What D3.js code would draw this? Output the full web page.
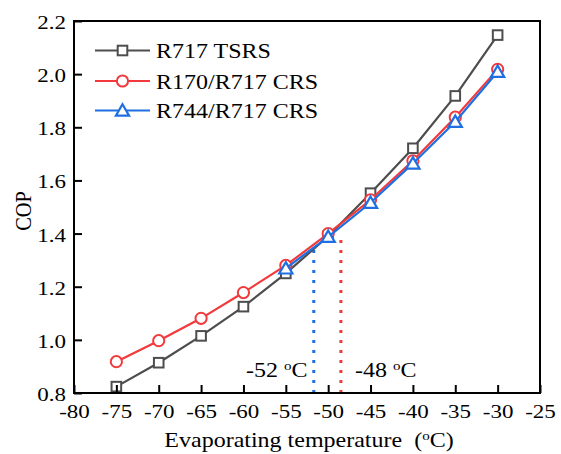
<!DOCTYPE html>
<html><head><meta charset="utf-8">
<script src="https://cdn.jsdelivr.net/npm/d3@7"></script>
<style>
body{margin:0;background:#fff}
text{font-family:"Liberation Serif","Times New Roman",serif;fill:#000}
</style>
</head><body>
<svg id="chart" width="561" height="454"></svg>
<script>
// ---- data ----
const temps = [-75, -70, -65, -60, -55, -50, -45, -40, -35, -30];
const tsrsCOP = [0.824, 0.914, 1.015, 1.125, 1.250, 1.390, 1.552, 1.721, 1.918, 2.147];
const r170COP = [0.918, 0.997, 1.081, 1.178, 1.280, 1.400, 1.527, 1.674, 1.838, 2.018];
const r744Temps = [-55, -50, -45, -40, -35, -30];
const r744COP = [1.269, 1.388, 1.516, 1.664, 1.821, 2.009];
const seriesNames = ["R717 TSRS", "R170/R717 CRS", "R744/R717 CRS"];
const xTicks = [-80, -75, -70, -65, -60, -55, -50, -45, -40, -35, -30, -25];
const yTicks = [0.8, 1.0, 1.2, 1.4, 1.6, 1.8, 2.0, 2.2];
const markTemps = [-51.7, -48.5];
const markTops = [1.342, 1.383];
const markLabels = ["-52 ", "-48 "];

// ---- layout ----
const SQ = 0.85; // vertical squeeze of text
const margin = {left: 74, right: 21, top: 21, bottom: 61};
const W = 561, H = 454;
const colors = ["#4d4d4d", "#f23a3d", "#1f6fe3"];
const svg = d3.select("#chart");
const x = d3.scaleLinear().domain([-80, -25]).range([margin.left, W - margin.right]);
const y = d3.scaleLinear().domain([0.8, 2.2]).range([H - margin.bottom, margin.top]);

function sText(g, px, py, anchor, size) {
  return g.append("text")
    .attr("transform", `translate(${px},${py}) scale(1,${SQ})`)
    .attr("text-anchor", anchor).style("font-size", size + "px")
    .style("white-space", "pre");
}

// dotted marker lines
markTemps.forEach((t, i) => {
  svg.append("line")
    .attr("x1", x(t)).attr("x2", x(t))
    .attr("y1", y(0.8)).attr("y2", y(markTops[i]))
    .attr("stroke", i === 0 ? colors[2] : colors[1])
    .attr("stroke-width", 3).attr("stroke-dasharray", "3,7");
});

// series
const series = [
  {t: temps, v: tsrsCOP, c: colors[0], m: "square"},
  {t: temps, v: r170COP, c: colors[1], m: "circle"},
  {t: r744Temps, v: r744COP, c: colors[2], m: "triangle"}
];
const line = d3.line().x(d => x(d[0])).y(d => y(d[1]));

function marker(g, m, cx, cy, c) {
  if (m === "square") {
    g.append("rect").attr("x", cx - 4.8).attr("y", cy - 4.8).attr("width", 9.6).attr("height", 9.6)
      .attr("fill", "#fff").attr("stroke", c).attr("stroke-width", 2);
  } else if (m === "circle") {
    g.append("circle").attr("cx", cx).attr("cy", cy).attr("r", 5.6)
      .attr("fill", "#fff").attr("stroke", c).attr("stroke-width", 2);
  } else {
    const s = 6.6, h = 11.4;
    g.append("path")
      .attr("d", `M${cx},${cy - h * 0.55}L${cx + s},${cy + h * 0.45}L${cx - s},${cy + h * 0.45}Z`)
      .attr("fill", "#fff").attr("stroke", c).attr("stroke-width", 2.2).attr("stroke-linejoin", "miter");
  }
}

series.forEach(s => {
  const pts = s.t.map((t, i) => [t, s.v[i]]);
  svg.append("path").datum(pts).attr("d", line)
    .attr("fill", "none").attr("stroke", s.c).attr("stroke-width", 2.2);
  const g = svg.append("g");
  pts.forEach(p => marker(g, s.m, x(p[0]), y(p[1]), s.c));
});

// axes
const xAxis = d3.axisBottom(x).tickValues(xTicks).tickSizeInner(-8).tickSizeOuter(0).tickFormat(d3.format("d"));
const gx = svg.append("g").attr("transform", `translate(0,${y(0.8)})`).call(xAxis);
gx.selectAll("line").attr("stroke", "#000").attr("stroke-width", 2);
gx.select(".domain").remove();
gx.selectAll("text").attr("y", 0).attr("dy", 0)
  .attr("transform", `translate(0,25) scale(1,${SQ})`)
  .style("font-size", "23px").style("font-family", "Liberation Serif, serif")
  .text(d => d < 0 ? "-" + Math.abs(d) : d);

const yAxis = d3.axisLeft(y).tickValues(yTicks).tickSizeInner(-8).tickSizeOuter(0).tickFormat(d3.format(".1f"));
const gy = svg.append("g").attr("transform", `translate(${x(-80)},0)`).call(yAxis);
gy.selectAll("line").attr("stroke", "#000").attr("stroke-width", 2);
gy.select(".domain").remove();
gy.selectAll("text").attr("x", 0).attr("dy", 0).attr("y", 0)
  .attr("transform", `translate(-8,7.5) scale(1,${SQ})`)
  .style("font-size", "23px").style("font-family", "Liberation Serif, serif");

// frame
svg.append("rect")
  .attr("x", x(-80)).attr("y", y(2.2))
  .attr("width", x(-25) - x(-80)).attr("height", y(0.8) - y(2.2))
  .attr("fill", "none").attr("stroke", "#000").attr("stroke-width", 2);

// axis titles
const xt = sText(svg, (x(-80) + x(-25)) / 2 + 2, 447, "middle", 24);
xt.append("tspan").text("Evaporating temperature  (");
xt.append("tspan").attr("dy", -8).style("font-size", "15px").text("o");
xt.append("tspan").attr("dy", 8).text("C)");

svg.append("text")
  .attr("transform", `translate(31,${(y(0.8) + y(2.2)) / 2 + 4}) scale(1,${SQ}) rotate(-90)`)
  .attr("text-anchor", "middle").style("font-size", "24px").text("COP");

// mark labels
const labPos = [[246, 377], [355, 377]];
markLabels.forEach((l, i) => {
  const t = sText(svg, labPos[i][0], labPos[i][1], "start", 24);
  t.append("tspan").text(l);
  t.append("tspan").attr("dy", -8).style("font-size", "15px").text("o");
  t.append("tspan").attr("dy", 8).text("C");
});

// legend
const legY = [50.5, 81, 110.5];
series.forEach((s, i) => {
  const g = svg.append("g");
  g.append("line").attr("x1", 95).attr("x2", 150).attr("y1", legY[i]).attr("y2", legY[i])
    .attr("stroke", s.c).attr("stroke-width", 2.2);
  marker(g, s.m, 122.5, legY[i], s.c);
  sText(g, 156, legY[i] + 7.5, "start", 24).text(seriesNames[i]);
});
</script>
</body></html>
